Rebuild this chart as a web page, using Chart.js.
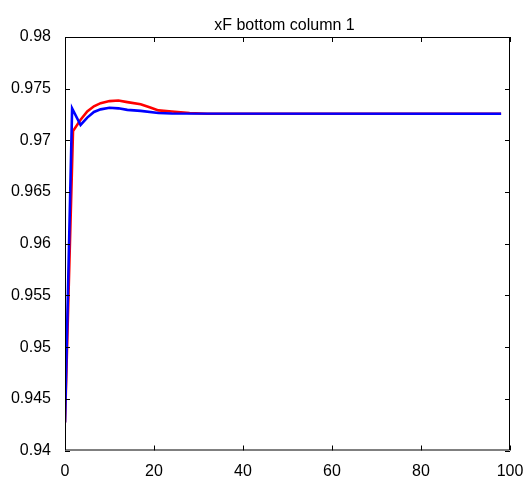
<!DOCTYPE html>
<html>
<head>
<meta charset="utf-8">
<script src="https://cdn.jsdelivr.net/npm/chart.js@4.4.1/dist/chart.umd.min.js"></script>
<style>
  html, body { margin: 0; padding: 0; background: #fff; }
  #wrap { width: 532px; height: 477px; }
</style>
</head>
<body>
<div id="wrap"><canvas id="myChart" width="532" height="477"></canvas></div>
<script>
// values
var titleText = "xF bottom column 1";

var redX = [0, 1.8, 3.5, 5, 6.5, 8, 10, 12, 14, 17, 19, 21, 24, 28, 32, 98];
var redY = [0.9427, 0.9709, 0.9720, 0.9728, 0.9733, 0.9736, 0.9738, 0.97385, 0.9737, 0.9735, 0.9732, 0.9729, 0.9728, 0.97265, 0.97258, 0.97258];

var blueX = [0, 1.6, 3.5, 5, 6.5, 8, 10, 12, 14, 17, 21, 24, 98];
var blueY = [0.9427, 0.9731, 0.97149, 0.9722, 0.97275, 0.9730, 0.97315, 0.9731, 0.97295, 0.97285, 0.97265, 0.9726, 0.97258];

var xTicks = [0, 20, 40, 60, 80, 100];
var yTicks = [0.94, 0.945, 0.95, 0.955, 0.96, 0.965, 0.97, 0.975, 0.98];

/// @xs - number[]
/// @ys - number[]
function toPoints(xs, ys) {
    var pts = [];
    for (var i = 0; i < xs.length; i++) {
        pts.push({ x: xs[i], y: ys[i] });
    }
    return pts;
}

const font = "'Liberation Sans', Arial, Helvetica, sans-serif";

// matlab style box with inward ticks on all four sides, plus the title
const boxTicks = {
    id: "boxTicks",
    afterDraw(chart) {
        const ctx = chart.ctx;
        const a = chart.chartArea;
        const xs = chart.scales.x;
        const ys = chart.scales.y;
        const len = 5;
        ctx.save();
        ctx.strokeStyle = "#000";
        ctx.lineWidth = 1;
        ctx.beginPath();
        ctx.rect(a.left + 0.5, a.top + 0.5, a.right - a.left - 1, a.bottom - a.top - 1);
        xTicks.forEach(v => {
            var px = Math.round(xs.getPixelForValue(v)) + 0.5;
            ctx.moveTo(px, a.bottom);
            ctx.lineTo(px, a.bottom - len);
            ctx.moveTo(px, a.top);
            ctx.lineTo(px, a.top + len);
        });
        yTicks.forEach(v => {
            var py = Math.round(ys.getPixelForValue(v)) + 0.5;
            ctx.moveTo(a.left, py);
            ctx.lineTo(a.left + len, py);
            ctx.moveTo(a.right, py);
            ctx.lineTo(a.right - len, py);
        });
        ctx.stroke();

        ctx.fillStyle = "#000";
        ctx.font = "16px " + font;
        ctx.textAlign = "center";
        ctx.textBaseline = "alphabetic";
        ctx.fillText(titleText, (a.left + a.right) / 2 - 3, 30);
        ctx.restore();
    }
};

const config = {
    type: "line",
    data: {
        datasets: [
            {
                label: "blue",
                data: toPoints(blueX, blueY),
                borderColor: "#0000ff",
                borderWidth: 2.6,
                pointRadius: 0,
                fill: false,
                tension: 0,
                order: 1
            },
            {
                label: "red",
                data: toPoints(redX, redY),
                borderColor: "#ff0000",
                borderWidth: 2.6,
                pointRadius: 0,
                fill: false,
                tension: 0,
                order: 2
            }
        ]
    },
    options: {
        responsive: false,
        animation: false,
        layout: { padding: { left: 0, right: 22, top: 37, bottom: 0 } },
        plugins: {
            legend: { display: false },
            tooltip: { enabled: false },
            title: { display: false }
        },
        scales: {
            x: {
                type: "linear",
                min: 0,
                max: 100,
                grid: { display: false },
                border: { display: false },
                afterBuildTicks: (s) => { s.ticks = xTicks.map(v => ({ value: v })); },
                afterFit: (s) => { s.height = 26.5; },
                ticks: {
                    color: "#000",
                    padding: 3,
                    maxRotation: 0,
                    font: { family: font, size: 16 }
                }
            },
            y: {
                type: "linear",
                min: 0.94,
                max: 0.98,
                grid: { display: false },
                border: { display: false },
                afterBuildTicks: (s) => { s.ticks = yTicks.map(v => ({ value: v })); },
                afterFit: (s) => { s.width = 65; },
                ticks: {
                    color: "#000",
                    padding: 6,
                    font: { family: font, size: 16 },
                    callback: (v) => String(Number(v.toFixed(3)))
                }
            }
        }
    },
    plugins: [boxTicks]
};

new Chart(document.getElementById("myChart"), config);
</script>
</body>
</html>
